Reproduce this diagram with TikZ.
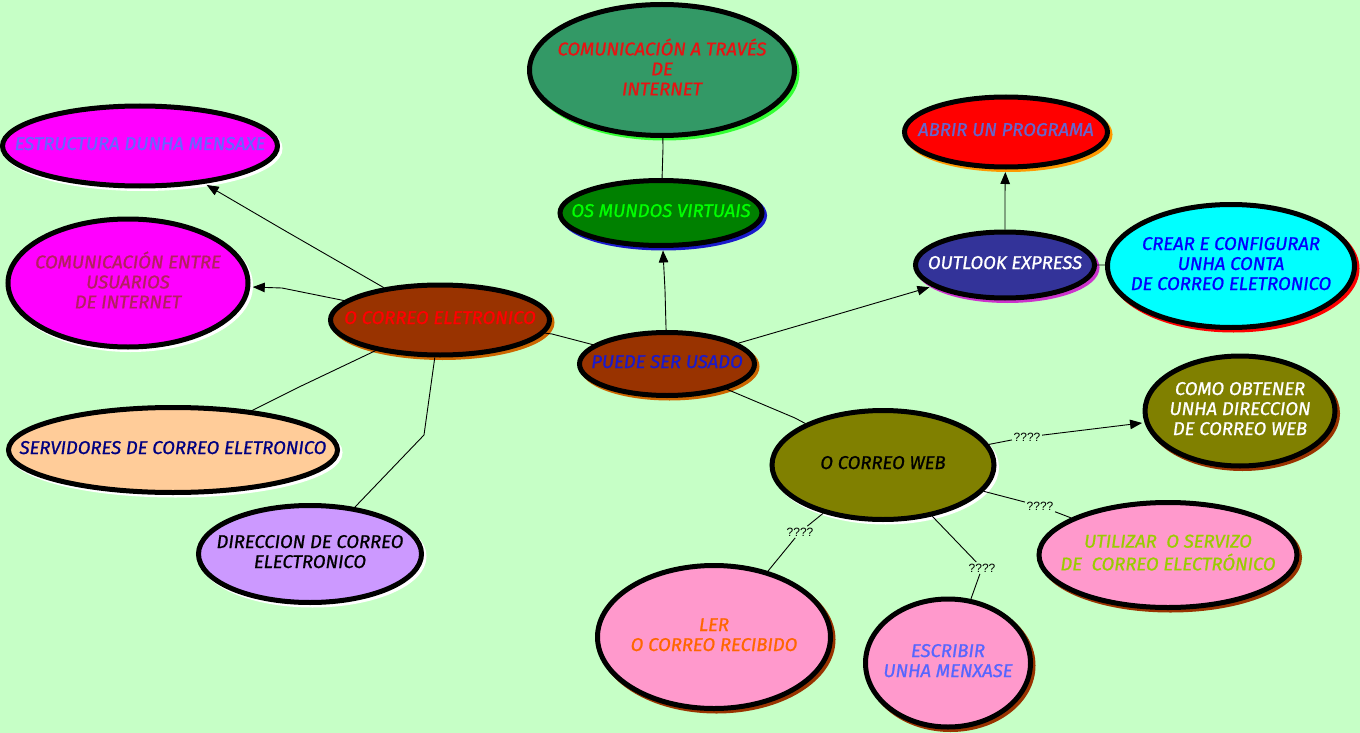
\documentclass[tikz,border=0pt]{standalone}
\usepackage{fontspec}
\setmainfont{Fira Sans}
\newfontfamily\conceptfont{Fira Sans}[FakeBold=1]
\newfontfamily\phrasefont{Liberation Sans}
\usetikzlibrary{shapes.geometric,shadows,arrows.meta}
\definecolor{cmapbg}{HTML}{C6FFC6}
\definecolor{cmapbrown}{HTML}{993300}
\definecolor{cmaprust}{HTML}{CC6600}
\definecolor{cmapseagreen}{HTML}{339966}
\definecolor{cmaplightgreen}{HTML}{33FF33}
\definecolor{cmapgreen}{HTML}{008000}
\definecolor{cmaplime}{HTML}{00FF00}
\definecolor{cmapmagenta}{HTML}{FF00FF}
\definecolor{cmapfuchsia}{HTML}{CC33CC}
\definecolor{cmapviolet}{HTML}{6666FF}
\definecolor{cmapcrimson}{HTML}{B3205E}
\definecolor{cmappeach}{HTML}{FFCC99}
\definecolor{cmapnavy}{HTML}{000080}
\definecolor{cmaplilac}{HTML}{CC99FF}
\definecolor{cmapred}{HTML}{FF0000}
\definecolor{cmapscarlet}{HTML}{E81212}
\definecolor{cmapamber}{HTML}{FF9900}
\definecolor{cmapslate}{HTML}{6666CC}
\definecolor{cmapindigo}{HTML}{333399}
\definecolor{cmapcyan}{HTML}{00FFFF}
\definecolor{cmapblue}{HTML}{0000FF}
\definecolor{cmapdeepblue}{HTML}{1A1ACC}
\definecolor{cmapolive}{HTML}{808000}
\definecolor{cmappink}{HTML}{FF99CC}
\definecolor{cmapyellowgreen}{HTML}{99CC00}
\definecolor{cmaporange}{HTML}{FF6600}
\definecolor{cmapperiwinkle}{HTML}{5566FF}
\tikzset{
  concept/.style={ellipse, draw=black, line width=5pt, inner sep=0pt,
    font=\conceptfont\fontsize{18.5}{20}\selectfont\itshape},
  rim/.style={drop shadow={shadow xshift=2.5pt, shadow yshift=-2.5pt,
    opacity=1, fill=#1, draw=#1, line width=5pt}},
  phrase/.style={inner sep=1.5pt, font=\phrasefont\fontsize{12}{14}\selectfont},
  link/.style={line width=0.9pt},
  linkto/.style={link, -{Triangle[length=12pt,width=9.5pt]}, shorten >=2.5pt}
}
\newcommand\concepttext[1]{\makebox[0pt]{\begin{tabular}{@{}c@{}}#1\end{tabular}}}

\begin{document}
\begin{tikzpicture}[x=1pt,y=-1pt]
  \useasboundingbox (0,0) rectangle (1360,733);
  \fill[cmapbg] (0,0) rectangle (1360,733);

  \node[concept, fill=cmapseagreen, text=cmapscarlet, rim=cmaplightgreen,
    minimum width=265pt, minimum height=131pt] (viainternet) at (662,70)
    {\concepttext{COMUNICACIÓN A TRAVÉS\\DE\\INTERNET}};
  \node[concept, fill=cmapgreen, text=cmaplime, rim=cmapdeepblue,
    minimum width=202pt, minimum height=65pt] (virtual) at (661,213)
    {\concepttext{OS MUNDOS VIRTUAIS}};
  \node[concept, fill=cmapmagenta, text=cmapviolet, rim=white,
    minimum width=275pt, minimum height=80pt] (structure) at (140,146)
    {\concepttext{ESTRUCTURA DUNHA MENSAXE}};
  \node[concept, fill=cmapmagenta, text=cmapcrimson, rim=white,
    minimum width=240pt, minimum height=128pt] (betweenusers) at (128,283)
    {\concepttext{COMUNICACIÓN ENTRE\\USUARIOS\\DE INTERNET}};
  \node[concept, fill=cmapbrown, text=cmapred, rim=cmaprust,
    minimum width=219pt, minimum height=70pt] (email) at (440,320)
    {\concepttext{O CORREO ELETRONICO}};
  \node[concept, fill=cmapbrown, text=cmapdeepblue, rim=cmaprust,
    minimum width=175pt, minimum height=63pt] (usage) at (667,364)
    {\concepttext{PUEDE SER USADO}};
  \node[concept, fill=cmappeach, text=cmapnavy, rim=white,
    minimum width=329pt, minimum height=85pt] (servers) at (173,450)
    {\concepttext{SERVIDORES DE CORREO ELETRONICO}};
  \node[concept, fill=cmaplilac, text=black, rim=white,
    minimum width=223pt, minimum height=97pt] (address) at (310,554)
    {\concepttext{DIRECCION DE CORREO\\ELECTRONICO}};
  \node[concept, fill=cmapred, text=cmapslate, rim=cmapamber,
    minimum width=203pt, minimum height=70pt] (program) at (1006,132)
    {\concepttext{ABRIR UN PROGRAMA}};
  \node[concept, fill=cmapindigo, text=white, rim=cmapfuchsia,
    minimum width=179pt, minimum height=66pt] (outlook) at (1005,265)
    {\concepttext{OUTLOOK EXPRESS}};
  \node[concept, fill=cmapcyan, text=cmapblue, rim=cmapred,
    minimum width=247pt, minimum height=123pt] (account) at (1231,266)
    {\concepttext{CREAR E CONFIGURAR\\UNHA CONTA\\DE CORREO ELETRONICO}};
  \node[concept, fill=cmapolive, text=white, rim=cmapbrown,
    minimum width=190pt, minimum height=110pt] (getaddress) at (1240,411)
    {\concepttext{COMO OBTENER\\UNHA DIRECCION\\DE CORREO WEB}};
  \node[concept, fill=cmapolive, text=black, rim=white,
    minimum width=222pt, minimum height=109pt] (webmail) at (883,465)
    {\concepttext{O CORREO WEB}};
  \node[concept, fill=cmappink, text=cmapyellowgreen, rim=cmapbrown,
    minimum width=258pt, minimum height=105pt] (useservice) at (1168,555)
    {\concepttext{UTILIZAR\ \ O SERVIZO\\DE\ \ CORREO ELECTRÓNICO}};
  \node[concept, fill=cmappink, text=cmaporange, rim=cmapbrown,
    minimum width=233pt, minimum height=143pt] (readmail) at (714,637)
    {\concepttext{LER\\O CORREO RECIBIDO}};
  \node[concept, fill=cmappink, text=cmapperiwinkle, rim=cmapbrown,
    minimum width=165pt, minimum height=128pt] (writemail) at (948,663)
    {\concepttext{ESCRIBIR\\UNHA MENXASE}};

  \coordinate (l1) at (282,229);
  \coordinate (l2) at (282,288);
  \coordinate (l3) at (297,388);
  \coordinate (l4) at (424,435);
  \coordinate (l5) at (552,334);
  \coordinate (l6) at (665,290);
  \coordinate (l7) at (663,148);
  \coordinate (l8) at (835,315);
  \coordinate (l9) at (1005,193);
  \coordinate (l10) at (1101,265);
  \coordinate (l11) at (795,418);
  \node[phrase] (q1) at (1027,437) {????};
  \node[phrase] (q2) at (1040,506) {????};
  \node[phrase] (q3) at (800,532) {????};
  \node[phrase] (q4) at (982,568) {????};

  \draw[linkto] (email) -- (l1) -- (structure);
  \draw[linkto] (email) -- (l2) -- (betweenusers);
  \draw[link] (email) -- (l3) -- (servers);
  \draw[link] (email) -- (l4) -- (address);
  \draw[link] (usage) -- (l5) -- (email);
  \draw[linkto] (usage) -- (l6) -- (virtual);
  \draw[link] (virtual) -- (l7) -- (viainternet);
  \draw[linkto] (usage) -- (l8) -- (outlook);
  \draw[linkto] (outlook) -- (l9) -- (program);
  \draw[link] (outlook) -- (l10) -- (account);
  \draw[link] (usage) -- (l11) -- (webmail);
  \draw[linkto] (webmail) -- (q1) -- (getaddress);
  \draw[link] (webmail) -- (q2) -- (useservice);
  \draw[link] (webmail) -- (q3) -- (readmail);
  \draw[link] (webmail) -- (q4) -- (writemail);
\end{tikzpicture}
\end{document}
